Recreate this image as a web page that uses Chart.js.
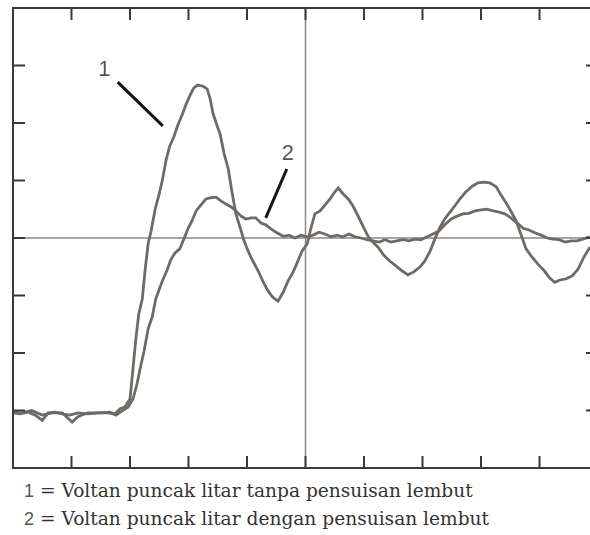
<!DOCTYPE html>
<html>
<head>
<meta charset="utf-8">
<script src="https://cdn.jsdelivr.net/npm/chart.js@4.4.1/dist/chart.umd.min.js"></script>
<style>
  html, body { margin: 0; padding: 0; background: #fff; overflow: hidden; }
  #wrap { width: 590px; height: 472px; overflow: hidden; }
  #notes { font-family: "DejaVu Serif", serif; font-size: 18.6px; color: #333; margin: 5px 0 0 24px; line-height: 27px; white-space: nowrap; }
  #notes .n { font-family: "Liberation Sans", sans-serif; color: #555; font-size: 18px; }
</style>
</head>
<body>
<div id="wrap"><canvas id="chart" width="600" height="472"></canvas></div>
<div id="notes">
  <div><span class="n">1</span> = Voltan puncak litar tanpa pensuisan lembut</div>
  <div><span class="n">2</span> = Voltan puncak litar dengan pensuisan lembut</div>
</div>
<script>
// time in divisions (0..10), voltage in divisions (-4..4)
const time1 = [0, 0.12, 0.26, 0.38, 0.50, 0.60, 0.72, 0.84, 0.97, 1.11, 1.28, 1.45, 1.62, 1.74, 1.83, 1.91,
  2.00, 2.05, 2.10, 2.15, 2.21, 2.26, 2.31, 2.36, 2.43, 2.50, 2.55, 2.62, 2.68, 2.75, 2.82, 2.89, 2.96,
  3.03, 3.09, 3.16, 3.25, 3.32, 3.37, 3.42, 3.49, 3.54, 3.61, 3.68, 3.74, 3.81, 3.88, 3.95,
  4.02, 4.10, 4.19, 4.27, 4.36, 4.44, 4.53, 4.62, 4.70, 4.79, 4.87, 4.94,
  5.03, 5.09, 5.16, 5.25, 5.33, 5.42, 5.50, 5.56, 5.64, 5.73, 5.81, 5.90, 5.98,
  6.07, 6.15, 6.24, 6.34, 6.44, 6.55, 6.65, 6.75, 6.85, 6.96,
  7.04, 7.13, 7.21, 7.30, 7.38, 7.47, 7.56, 7.64, 7.74, 7.85, 7.95,
  8.05, 8.15, 8.26, 8.34, 8.43, 8.51, 8.60, 8.68, 8.77, 8.87, 8.97,
  9.08, 9.18, 9.26, 9.35, 9.45, 9.56, 9.66, 9.76, 9.86];
const volt1 = [-3.04, -3.06, -3.03, -3.08, -3.17, -3.04, -3.03, -3.06, -3.08, -3.04, -3.06, -3.04, -3.04, -3.06, -2.97, -2.94,
  -2.80, -2.28, -1.76, -1.32, -1.06, -0.54, -0.10, 0.12, 0.50, 0.77, 0.99, 1.37, 1.60, 1.76, 1.97, 2.14, 2.33,
  2.49, 2.61, 2.66, 2.64, 2.59, 2.42, 2.16, 1.95, 1.81, 1.46, 1.20, 0.82, 0.42, 0.19, -0.05,
  -0.23, -0.40, -0.57, -0.75, -0.92, -1.03, -1.10, -0.94, -0.75, -0.59, -0.40, -0.23,
  -0.10, 0.16, 0.42, 0.47, 0.57, 0.68, 0.80, 0.87, 0.77, 0.68, 0.56, 0.38, 0.21,
  0.03, -0.07, -0.16, -0.30, -0.40, -0.49, -0.57, -0.64, -0.59, -0.50,
  -0.40, -0.23, -0.02, 0.19, 0.33, 0.45, 0.57, 0.68, 0.80, 0.90, 0.96,
  0.97, 0.96, 0.89, 0.75, 0.61, 0.47, 0.30, 0.07, -0.19, -0.33, -0.45,
  -0.57, -0.70, -0.77, -0.73, -0.71, -0.66, -0.54, -0.33, -0.16];

const time2 = [0, 0.15, 0.32, 0.50, 0.67, 0.84, 1.01, 1.11, 1.28, 1.49, 1.66, 1.76, 1.86, 1.97,
  2.05, 2.12, 2.19, 2.24, 2.31, 2.38, 2.44, 2.50, 2.56, 2.63, 2.70, 2.77, 2.85, 2.92, 2.99,
  3.06, 3.13, 3.21, 3.30, 3.38, 3.47, 3.56, 3.64, 3.73, 3.81, 3.90, 3.98,
  4.07, 4.15, 4.24, 4.32, 4.41, 4.51, 4.62, 4.72, 4.82, 4.92,
  5.03, 5.13, 5.23, 5.33, 5.44, 5.54, 5.64, 5.74, 5.85, 5.95,
  6.05, 6.15, 6.26, 6.36, 6.46, 6.56, 6.67, 6.77, 6.87, 6.97,
  7.08, 7.18, 7.28, 7.38, 7.49, 7.59, 7.69, 7.79, 7.90,
  8.00, 8.10, 8.21, 8.31, 8.41, 8.51, 8.62, 8.72, 8.82, 8.92,
  9.03, 9.13, 9.23, 9.33, 9.44, 9.54, 9.64, 9.74, 9.86];
const volt2 = [-3.03, -3.04, -3.00, -3.08, -3.04, -3.04, -3.20, -3.11, -3.04, -3.04, -3.03, -3.08, -3.01, -2.94,
  -2.80, -2.54, -2.19, -1.97, -1.58, -1.37, -1.06, -0.89, -0.73, -0.57, -0.37, -0.26, -0.19, -0.02, 0.16,
  0.30, 0.47, 0.57, 0.68, 0.70, 0.71, 0.64, 0.59, 0.54, 0.47, 0.38, 0.33,
  0.35, 0.35, 0.26, 0.23, 0.16, 0.09, 0.03, 0.05, 0.00, 0.05,
  0.02, 0.05, 0.10, 0.07, 0.02, 0.05, 0.02, 0.07, 0.02, 0.00,
  -0.03, -0.05, -0.07, -0.03, -0.07, -0.05, -0.03, -0.05, -0.02, -0.03,
  0.02, 0.07, 0.12, 0.23, 0.33, 0.38, 0.42, 0.43, 0.47,
  0.49, 0.50, 0.47, 0.45, 0.42, 0.35, 0.26, 0.17, 0.14, 0.09,
  0.05, 0.00, -0.02, -0.03, -0.07, -0.05, -0.05, -0.02, 0.02];

const xTicks = [1, 2, 3, 4, 5, 6, 7, 8, 9];
const yTicks = [-3, -2, -1, 0, 1, 2, 3];

// curve labels: [text, x, y] and their pointer lines [x1, y1, x2, y2]
const curveLabels = [["1", 1.56, 2.92], ["2", 4.70, 1.46]];
const pointers = [[1.79, 2.71, 2.56, 1.95], [4.68, 1.20, 4.32, 0.35]];

const toPoints = (xs, ys) => xs.map((x, i) => ({ x: x, y: ys[i] }));

const scopePlugin = {
  id: "scope",
  beforeDatasetsDraw(chart) {
    const { ctx, chartArea: a, scales: { x, y } } = chart;
    ctx.save();
    ctx.strokeStyle = "#8c8884";
    ctx.lineWidth = 1.5;
    ctx.beginPath();
    ctx.moveTo(x.getPixelForValue(5), a.top);
    ctx.lineTo(x.getPixelForValue(5), a.bottom);
    ctx.moveTo(a.left, y.getPixelForValue(0));
    ctx.lineTo(a.right, y.getPixelForValue(0));
    ctx.stroke();
    ctx.restore();
  },
  afterDatasetsDraw(chart) {
    const { ctx, chartArea: a, scales: { x, y } } = chart;
    const len = 12;
    ctx.save();
    ctx.strokeStyle = "#3a3a3a";
    ctx.lineWidth = 2;
    ctx.strokeRect(a.left, a.top, a.right - a.left, a.bottom - a.top);
    ctx.beginPath();
    xTicks.forEach((t) => {
      const px = x.getPixelForValue(t);
      ctx.moveTo(px, a.top); ctx.lineTo(px, a.top + len);
      ctx.moveTo(px, a.bottom); ctx.lineTo(px, a.bottom - len);
    });
    yTicks.forEach((t) => {
      const py = y.getPixelForValue(t);
      ctx.moveTo(a.left, py); ctx.lineTo(a.left + len, py);
      ctx.moveTo(a.right, py); ctx.lineTo(a.right - len, py);
    });
    ctx.stroke();

    ctx.strokeStyle = "#151515";
    ctx.lineWidth = 3;
    ctx.beginPath();
    pointers.forEach((p) => {
      ctx.moveTo(x.getPixelForValue(p[0]), y.getPixelForValue(p[1]));
      ctx.lineTo(x.getPixelForValue(p[2]), y.getPixelForValue(p[3]));
    });
    ctx.stroke();

    ctx.fillStyle = "#555";
    ctx.font = "22px 'Liberation Sans', sans-serif";
    ctx.textAlign = "center";
    ctx.textBaseline = "middle";
    curveLabels.forEach((l) => {
      ctx.fillText(l[0], x.getPixelForValue(l[1]), y.getPixelForValue(l[2]));
    });
    ctx.restore();
  }
};

const lineStyle = {
  borderColor: "#6e6a66",
  borderWidth: 2.8,
  pointRadius: 0,
  tension: 0,
  fill: false
};

new Chart(document.getElementById("chart"), {
  type: "line",
  data: {
    datasets: [
      Object.assign({ label: "1", data: toPoints(time1, volt1) }, lineStyle),
      Object.assign({ label: "2", data: toPoints(time2, volt2) }, lineStyle)
    ]
  },
  options: {
    responsive: false,
    animation: false,
    layout: { padding: { left: 13, top: 8, right: 2, bottom: 4 } },
    scales: {
      x: { type: "linear", min: 0, max: 10, display: false },
      y: { type: "linear", min: -4, max: 4, display: false }
    },
    plugins: {
      legend: { display: false },
      tooltip: { enabled: false }
    }
  },
  plugins: [scopePlugin]
});
</script>
</body>
</html>
